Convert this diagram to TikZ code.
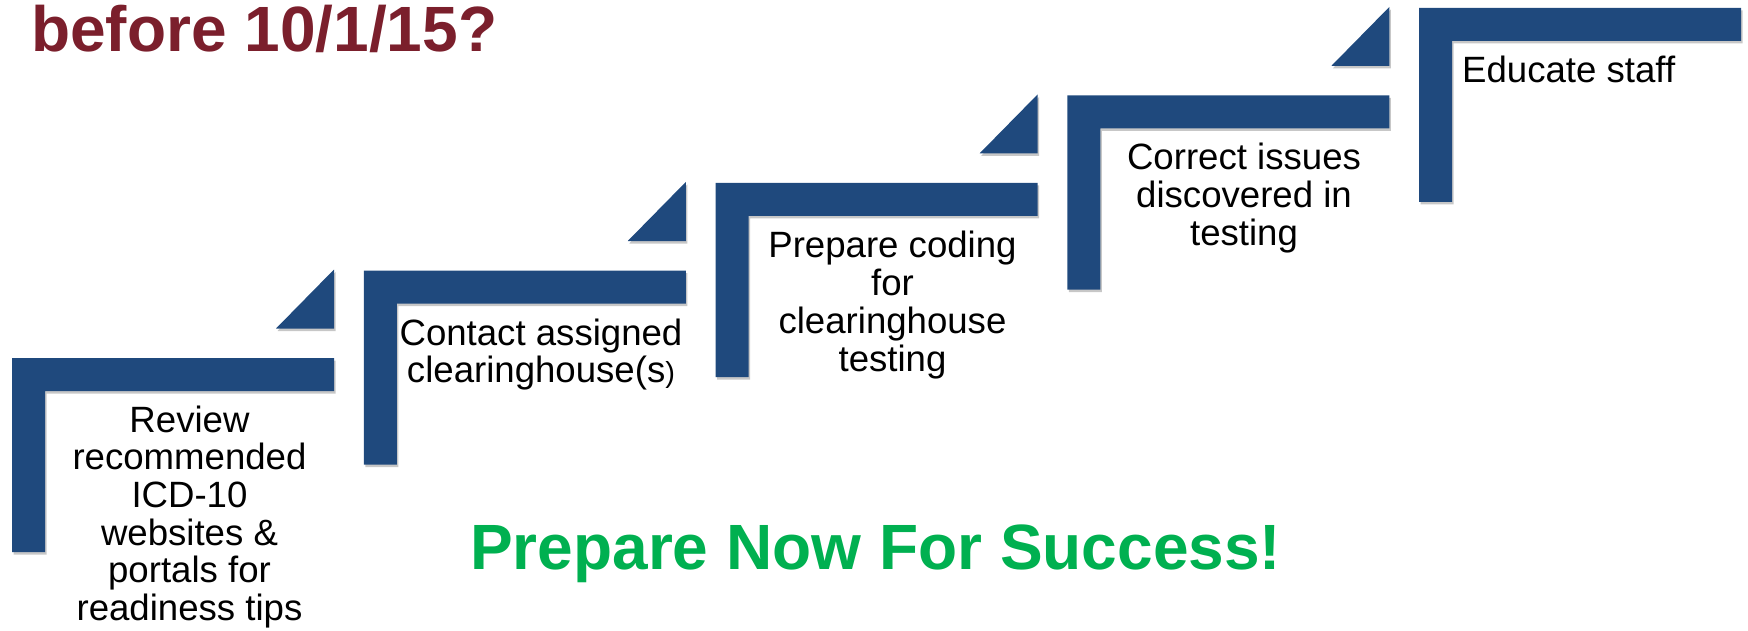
\documentclass[tikz,border=0pt]{standalone}
\usepackage{fontspec}
\setmainfont{Liberation Sans}
\definecolor{stepblue}{RGB}{31,73,125}
\definecolor{titlered}{RGB}{123,31,44}
\definecolor{successgreen}{RGB}{0,176,80}
\begin{document}
\begin{tikzpicture}[x=1pt,y=-1pt,
  stair/.style={fill=stepblue},
  shadowfill/.style={fill=black,opacity=0.22},
  steptext/.style={inner sep=0pt,anchor=base,font=\fontsize{36.6}{37.5}\selectfont,text=black}]
\useasboundingbox (0,0) rectangle (1748,631);
\foreach \i in {0,...,4}{
  \pgfmathsetmacro\L{12+351.75*\i}
  \pgfmathsetmacro\T{358-87.5*\i}
  % shadow
  \begin{scope}[shift={(1.5,2.5)}]
    \fill[shadowfill] (\L,\T) -- ({\L+322},\T) -- ({\L+322},{\T+33}) -- ({\L+33},{\T+33}) -- ({\L+33},{\T+194}) -- (\L,{\T+194}) -- cycle;
    \ifnum\i<4
      \fill[shadowfill] ({\L+322},{\T-88.5}) -- ({\L+322},{\T-29.5}) -- ({\L+264},{\T-29.5}) -- cycle;
    \fi
  \end{scope}
  \fill[stair] (\L,\T) -- ({\L+322},\T) -- ({\L+322},{\T+33}) -- ({\L+33},{\T+33}) -- ({\L+33},{\T+194}) -- (\L,{\T+194}) -- cycle;
  \ifnum\i<4
    \fill[stair] ({\L+322},{\T-88.5}) -- ({\L+322},{\T-29.5}) -- ({\L+264},{\T-29.5}) -- cycle;
  \fi
}
% texts
\node[steptext] (t1) at (189.5,432) {\begin{tabular}[t]{@{}c@{}}Review\\recommended\\ICD-10\\websites \&\\portals for\\readiness tips\end{tabular}};
\node[steptext] (t2) at (541,345) {\begin{tabular}[t]{@{}c@{}}Contact assigned\\clearinghouse(s{\fontsize{29}{30}\selectfont )}\end{tabular}};
\node[steptext] (t3) at (892.5,258) {\begin{tabular}[t]{@{}c@{}}Prepare coding\\for\\clearinghouse\\testing\end{tabular}};
\node[steptext] (t4) at (1244,170) {\begin{tabular}[t]{@{}c@{}}Correct issues\\discovered in\\testing\end{tabular}};
\node[steptext,anchor=base west] (t5) at (1462,83) {Educate staff};
\node[inner sep=0pt,anchor=base west,font=\fontsize{64}{70}\bfseries\selectfont,text=titlered] (title) at (31,52) {before 10/1/15?};
\node[inner sep=0pt,anchor=base west,font=\fontsize{64}{70}\bfseries\selectfont,text=successgreen] (slogan) at (470,569) {Prepare Now For Success!};
\end{tikzpicture}
\end{document}
